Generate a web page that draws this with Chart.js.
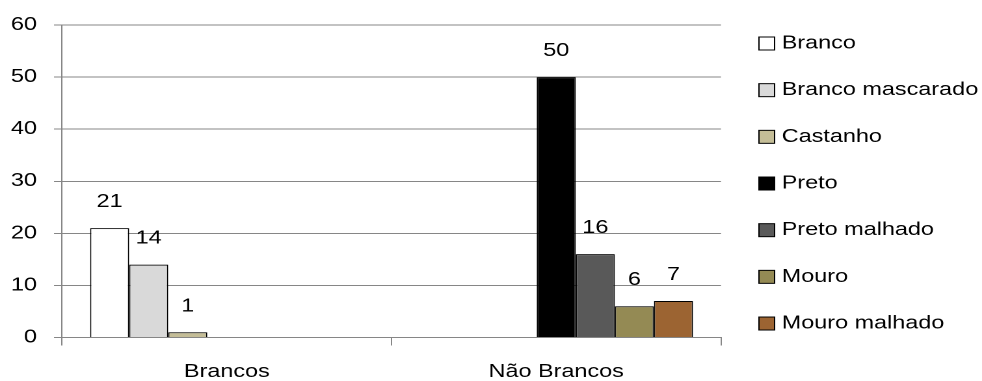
<!DOCTYPE html>
<html>
<head>
<meta charset="utf-8">
<script src="https://cdn.jsdelivr.net/npm/chart.js@4.4.0/dist/chart.umd.min.js"></script>
<style>
html, body { margin: 0; padding: 0; background: #fff; overflow: hidden; }
/* the reference is stretched sideways, so draw narrow and stretch */
#wrap { width: 755px; height: 381px; transform: scaleX(1.3007); transform-origin: 0 0; }
canvas { display: block; }
</style>
</head>
<body>
<div id="wrap"><canvas id="chart" width="755" height="381"></canvas></div>
<script>
// categories and series
var categories = ['Brancos', 'Não Brancos'];
var seriesNames = ['Branco', 'Branco mascarado', 'Castanho', 'Preto', 'Preto malhado', 'Mouro', 'Mouro malhado'];
var branco = [21, 0];
var brancoMascarado = [14, 0];
var castanho = [1, 0];
var preto = [0, 50];
var pretoMalhado = [0, 16];
var mouro = [0, 6];
var mouroMalhado = [0, 7];
var yTicks = [0, 10, 20, 30, 40, 50, 60];

var seriesValues = [branco, brancoMascarado, castanho, preto, pretoMalhado, mouro, mouroMalhado];
var seriesColors = ['#ffffff', '#d9d9d9', '#c4bd97', '#000000', '#595959', '#948a54', '#9c6432'];

const FONT = { family: '"Liberation Sans", Arial, sans-serif', size: 18 };
const GRID = '#868686';

//value labels above the bars, zeros are left out
const valueLabels = {
  id: 'valueLabels',
  afterDatasetsDraw(chart) {
    const ctx = chart.ctx;
    ctx.save();
    ctx.font = FONT.size + 'px ' + FONT.family;
    ctx.fillStyle = '#000';
    ctx.textAlign = 'center';
    ctx.textBaseline = 'middle';
    chart.data.datasets.forEach(function(ds, i) {
      chart.getDatasetMeta(i).data.forEach(function(bar, j) {
        if (!ds.data[j]) return;
        ctx.fillText(String(ds.data[j]), bar.x, bar.y - 26);
      });
    });
    ctx.restore();
  }
};

//legend on the right, one row per series
const sideLegend = {
  id: 'sideLegend',
  afterDraw(chart) {
    const ctx = chart.ctx;
    ctx.save();
    ctx.font = FONT.size + 'px ' + FONT.family;
    ctx.textBaseline = 'middle';
    ctx.lineWidth = 1;
    chart.data.datasets.forEach(function(ds, i) {
      const y = 43.5 + i * 46.67;
      ctx.fillStyle = ds.backgroundColor;
      ctx.fillRect(583.5, y - 6.5, 12, 13);
      ctx.strokeStyle = '#000';
      ctx.strokeRect(583.5, y - 6.5, 12, 13);
      ctx.fillStyle = '#000';
      ctx.fillText(ds.label, 601, y);
    });
    ctx.restore();
  }
};

const chart = new Chart(document.getElementById('chart'), {
  type: 'bar',
  data: {
    labels: categories,
    datasets: seriesNames.map(function(name, i) {
      return {
        label: name,
        data: seriesValues[i],
        backgroundColor: seriesColors[i],
        borderColor: '#000',
        borderWidth: 1,
        borderSkipped: 'start',
        categoryPercentage: 0.83,
        barPercentage: 1
      };
    })
  },
  options: {
    responsive: false,
    animation: false,
    devicePixelRatio: 2,
    // chart.js counts tick padding twice in the axis size, so pull the edges back out
    layout: { padding: { left: -4.7, right: 200.7, top: 25, bottom: -17.5 } },
    plugins: {
      legend: { display: false },
      tooltip: { enabled: false }
    },
    scales: {
      x: {
        grid: { offset: true, drawOnChartArea: false, tickLength: 8, color: GRID },
        border: { color: GRID },
        ticks: { color: '#000', font: FONT, padding: 15.7 }
      },
      y: {
        min: 0,
        max: 60,
        afterBuildTicks: function(scale) {
          scale.ticks = yTicks.map(function(v) { return { value: v }; });
        },
        grid: { color: GRID, tickLength: 6.2 },
        border: { color: GRID },
        ticks: { color: '#000', font: FONT, padding: 13.1 }
      }
    }
  },
  plugins: [valueLabels, sideLegend]
});
</script>
</body>
</html>
